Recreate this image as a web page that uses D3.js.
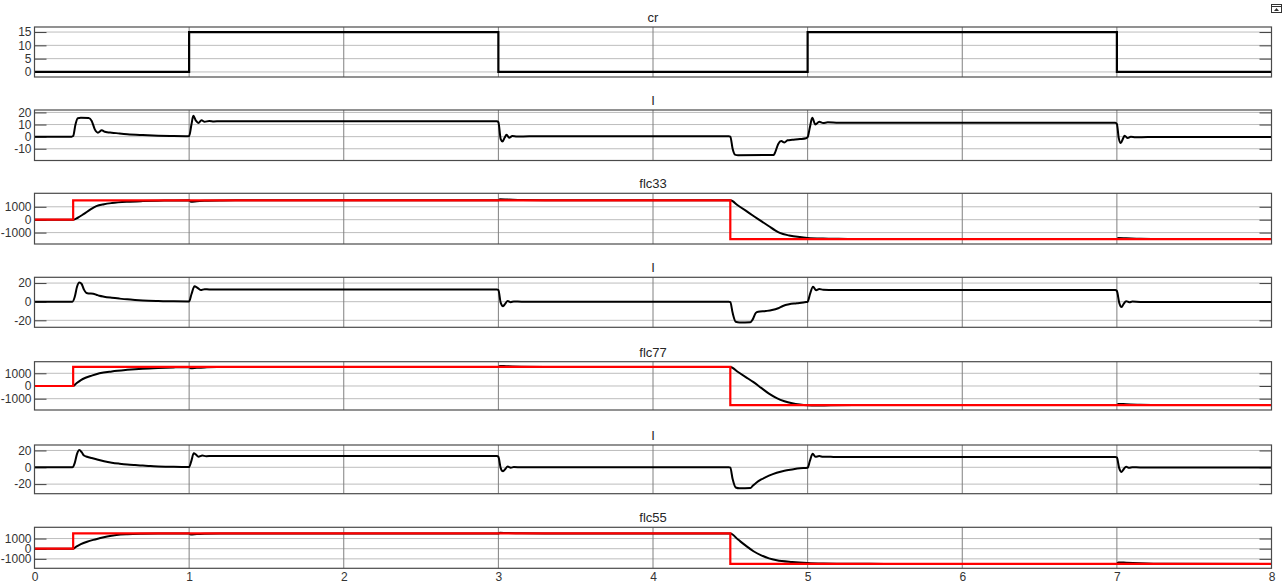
<!DOCTYPE html>
<html>
<head>
<meta charset="utf-8">
<script src="https://cdn.jsdelivr.net/npm/d3@7"></script>
<style>
  html, body { margin: 0; padding: 0; background: #fff; }
  svg { display: block; font-family: "Liberation Sans", Arial, sans-serif; }
</style>
</head>
<body>
<svg id="scope" width="1282" height="584"></svg>
<script>
// ---- signal data: [time (s), value] ----
const cr = [[0,0],[1,0],[1,15],[3,15],[3,0],[5,0],[5,15],[7,15],[7,0],[8,0]];

const current1 = [[0,0],[0.24,0],[0.25,0.5],[0.265,10],[0.28,15.2],[0.3,15.5],[0.35,15.4],[0.37,13],[0.39,6],[0.41,3.3],
  [0.435,5.2],[0.455,4],[0.47,3.6],[0.5,3.3],[0.55,2.6],[0.6,2.0],[0.7,1.3],[0.8,0.8],[0.9,0.5],[0.99,0.4],
  [1.0,0.5],[1.015,10],[1.027,17.2],[1.045,13],[1.06,11.3],[1.08,13.5],[1.1,12.3],[1.13,12.9],[1.16,12.6],[1.2,12.8],
  [2,12.8],[2.99,12.8],[3.0,12],[3.015,-2],[3.027,-4.0],[3.04,-1],[3.053,1.5],[3.07,-0.9],[3.09,0.5],[3.12,0.1],
  [3.2,0.3],[4,0.3],[4.49,0.3],[4.5,0],[4.515,-10],[4.53,-14.8],[4.55,-15.3],[4.78,-15.2],[4.79,-13],[4.81,-6],
  [4.83,-3.7],[4.85,-4.8],[4.87,-3],[4.9,-2.6],[4.95,-2],[4.99,-1.3],[5.0,-0.5],[5.015,8],[5.03,15.5],[5.05,10],
  [5.075,12.4],[5.1,11.3],[5.13,11.8],[5.2,11.5],[6,11.5],[6.99,11.5],[7.0,10.5],[7.012,-1],[7.025,-5.3],[7.04,-1.5],
  [7.05,0.8],[7.07,-1.2],[7.09,-0.1],[7.12,-0.5],[7.2,-0.3],[8,-0.3]];

const current2 = [[0,0],[0.245,0],[0.26,5],[0.275,16],[0.29,20.5],[0.305,19],[0.32,13],[0.335,9.5],[0.35,8.8],[0.38,8.6],
  [0.4,7.5],[0.42,6.3],[0.45,5.3],[0.5,4.2],[0.55,3.3],[0.6,2.5],[0.65,1.9],[0.7,1.4],[0.8,0.8],[0.9,0.4],[1.0,0.3],
  [1.015,8],[1.035,16.5],[1.05,15.5],[1.075,12.5],[1.1,13.5],[1.13,13.2],[1.2,13.2],[2.99,13.2],[3.0,12.5],[3.015,-1],
  [3.03,-4.8],[3.045,-2],[3.06,0.8],[3.08,-0.5],[3.1,0.3],[3.15,0],[4.49,0],[4.5,-0.5],[4.515,-12],[4.535,-21.5],
  [4.56,-22.3],[4.63,-22],[4.645,-19],[4.665,-12],[4.68,-10.8],[4.73,-10],[4.77,-9],[4.81,-7],[4.84,-4.6],[4.88,-2.8],
  [4.93,-1.7],[4.99,-0.3],[5.0,0],[5.015,8],[5.035,16],[5.055,12.3],[5.075,13.6],[5.1,12.8],[5.15,12.6],[5.2,12.5],
  [6.99,12.5],[7.0,11.5],[7.015,-1],[7.03,-5.8],[7.045,-2],[7.06,0.6],[7.08,-0.6],[7.1,0.1],[7.15,-0.2],[8,-0.2]];

const current3 = [[0,0],[0.245,0],[0.26,5],[0.275,16],[0.29,20.6],[0.305,18],[0.32,14],[0.34,12.6],[0.37,11],[0.4,9.5],
  [0.45,7.2],[0.5,5.5],[0.55,4.3],[0.6,3.3],[0.65,2.6],[0.7,2],[0.75,1.4],[0.8,1],[0.9,0.5],[1.0,0.3],[1.015,8],
  [1.03,16.7],[1.045,15],[1.06,12.6],[1.085,14],[1.11,13.2],[1.15,13.5],[1.2,13.4],[2.99,13.4],[3.0,12.5],[3.015,-1],
  [3.03,-4.8],[3.045,-2],[3.06,0.8],[3.08,-0.5],[3.1,0.3],[3.15,0],[4.49,0],[4.5,-0.5],[4.515,-14],[4.535,-24],
  [4.56,-25],[4.63,-24.7],[4.645,-22],[4.67,-18],[4.7,-14.5],[4.75,-10],[4.8,-6.5],[4.85,-4],[4.9,-2.5],[4.95,-1.2],
  [5.0,-0.5],[5.015,8],[5.033,16],[5.05,12.5],[5.075,13.3],[5.1,12.5],[5.15,12.4],[5.2,12.3],[6.99,12.3],[7.0,11.5],
  [7.015,-1],[7.03,-5.5],[7.045,-2],[7.06,0.6],[7.08,-0.6],[7.1,0.1],[7.15,-0.2],[8,-0.2]];

const flcRef = [[0,0],[0.25,0],[0.25,1500],[4.5,1500],[4.5,-1500],[8,-1500]];

const flc33 = [[0,0],[0.25,0],[0.28,150],[0.32,450],[0.36,780],[0.4,1050],[0.45,1200],[0.5,1290],[0.6,1390],[0.7,1440],
  [0.8,1470],[0.9,1490],[1.0,1500],[1.01,1400],[1.05,1430],[1.1,1470],[1.2,1495],[1.3,1500],[3.0,1500],[3.01,1580],
  [3.06,1560],[3.15,1520],[3.3,1505],[4.5,1500],[4.55,1100],[4.6,700],[4.65,290],[4.7,-110],[4.75,-510],[4.79,-830],
  [4.82,-1020],[4.88,-1220],[4.95,-1350],[5.0,-1410],[5.1,-1465],[5.2,-1485],[5.4,-1498],[7.0,-1500],[7.01,-1420],
  [7.06,-1440],[7.15,-1480],[7.3,-1498],[8,-1500]];

const flc77 = [[0,0],[0.25,0],[0.27,200],[0.3,470],[0.33,650],[0.37,820],[0.42,1000],[0.5,1150],[0.6,1270],[0.7,1360],
  [0.8,1420],[0.9,1465],[1.0,1490],[1.01,1390],[1.05,1430],[1.1,1465],[1.2,1490],[1.3,1500],[3.0,1500],[3.01,1580],
  [3.05,1560],[3.15,1520],[3.3,1505],[4.5,1500],[4.55,1100],[4.6,700],[4.65,300],[4.7,-150],[4.75,-600],[4.8,-950],
  [4.85,-1200],[4.9,-1360],[4.95,-1460],[5.0,-1520],[5.05,-1545],[5.15,-1515],[5.3,-1502],[7.0,-1500],[7.01,-1410],
  [7.06,-1440],[7.15,-1480],[7.3,-1498],[8,-1500]];

const flc55 = [[0,0],[0.25,0],[0.27,200],[0.3,450],[0.34,690],[0.38,870],[0.42,1020],[0.47,1200],[0.53,1340],[0.6,1420],
  [0.7,1470],[0.8,1490],[1.0,1500],[1.01,1400],[1.05,1440],[1.1,1470],[1.2,1495],[1.3,1500],[3.0,1500],[3.01,1570],
  [3.05,1550],[3.15,1515],[3.3,1503],[4.5,1500],[4.55,900],[4.6,300],[4.65,-250],[4.7,-650],[4.75,-950],[4.8,-1130],
  [4.9,-1300],[5.0,-1400],[5.1,-1450],[5.2,-1475],[5.4,-1495],[5.6,-1500],[7.0,-1500],[7.01,-1350],[7.06,-1380],
  [7.15,-1440],[7.3,-1495],[8,-1500]];

// ---- axis tick values ----
const timeTicks = [0, 1, 2, 3, 4, 5, 6, 7, 8];
const crTicks = [0, 5, 10, 15];
const current1Ticks = [-10, 0, 10, 20];
const current23Ticks = [-20, 0, 20];
const flcTicks = [-1000, 0, 1000];
const titles = ["cr", "I", "flc33", "I", "flc77", "I", "flc55"];

// ---- panel layout (pixel top/bottom of each plot area and its y-range) ----
const panels = [
  { title: titles[0], top: 27,    bottom: 77,    domain: [-1.9, 16.9],   ticks: crTicks,       black: cr },
  { title: titles[1], top: 110,   bottom: 160.5, domain: [-19.7, 22],    ticks: current1Ticks, black: current1 },
  { title: titles[2], top: 193.3, bottom: 244,   domain: [-1884, 2046],  ticks: flcTicks,      black: flc33, red: flcRef },
  { title: titles[3], top: 277.3, bottom: 327.3, domain: [-27.5, 26.2],  ticks: current23Ticks, black: current2 },
  { title: titles[4], top: 361.7, bottom: 410,   domain: [-1890, 1913],  ticks: flcTicks,      black: flc77, red: flcRef },
  { title: titles[5], top: 445,   bottom: 493.7, domain: [-31.4, 26.5],  ticks: current23Ticks, black: current3 },
  { title: titles[6], top: 527.3, bottom: 568.3, domain: [-1931, 2108],  ticks: flcTicks,      black: flc55, red: flcRef }
];

const left = 34.5, right = 1271.5;
const svg = d3.select("#scope");
const x = d3.scaleLinear().domain([0, 8]).range([left, right]);

const fmt = v => String(v);

panels.forEach((p, i) => {
  const y = d3.scaleLinear().domain(p.domain).range([p.bottom, p.top]);
  const g = svg.append("g");
  const clipId = "clip" + i;
  svg.append("clipPath").attr("id", clipId)
    .append("rect").attr("x", left).attr("y", p.top).attr("width", right - left).attr("height", p.bottom - p.top);

  // horizontal grid
  g.selectAll("line.hg").data(p.ticks).join("line")
    .attr("x1", left).attr("x2", right)
    .attr("y1", d => y(d)).attr("y2", d => y(d))
    .attr("stroke", "#bdbdbd").attr("stroke-width", 1);
  // vertical grid
  g.selectAll("line.vg").data(timeTicks.slice(1, -1)).join("line")
    .attr("x1", d => x(d)).attr("x2", d => x(d))
    .attr("y1", p.top).attr("y2", p.bottom)
    .attr("stroke", "#808080").attr("stroke-width", 1);

  // y axis: ticks inward on both sides
  const yl = d3.axisLeft(y).tickValues(p.ticks).tickSize(-12).tickFormat(fmt);
  const ya = g.append("g").attr("transform", `translate(${left},0)`).call(yl);
  const yr = g.append("g").attr("transform", `translate(${right},0)`)
    .call(d3.axisRight(y).tickValues(p.ticks).tickSize(-12).tickFormat(""));
  [ya, yr].forEach(a => {
    a.select(".domain").remove();
    a.selectAll(".tick line").attr("stroke", "#404040").attr("stroke-width", 1);
  });
  ya.selectAll(".tick text").attr("x", -3).attr("fill", "#333").attr("font-size", 12)
    .attr("font-family", "'Liberation Sans', Arial, sans-serif");

  const line = d3.line().x(d => x(d[0])).y(d => y(d[1]));
  const plot = g.append("g").attr("clip-path", `url(#${clipId})`);

  if (p.red) {
    plot.append("path").datum(p.black)
      .attr("d", line.curve(d3.curveMonotoneX))
      .attr("fill", "none").attr("stroke", "#000").attr("stroke-width", 2);
    plot.append("path").datum(p.red)
      .attr("d", line.curve(d3.curveLinear))
      .attr("fill", "none").attr("stroke", "#ff0000").attr("stroke-width", 2.2);
  } else if (p.black === cr) {
    plot.append("path").datum(p.black)
      .attr("d", line.curve(d3.curveLinear))
      .attr("fill", "none").attr("stroke", "#000").attr("stroke-width", 2.2);
  } else {
    plot.append("path").datum(p.black)
      .attr("d", line.curve(d3.curveMonotoneX))
      .attr("fill", "none").attr("stroke", "#000").attr("stroke-width", 2);
  }

  // frame
  g.append("rect").attr("x", left).attr("y", p.top)
    .attr("width", right - left).attr("height", p.bottom - p.top)
    .attr("fill", "none").attr("stroke", "#4a4a4a").attr("stroke-width", 1.2);

  // title
  svg.append("text").attr("x", (left + right) / 2).attr("y", p.top - 5)
    .attr("text-anchor", "middle").attr("font-size", 13).attr("fill", "#262626")
    .text(p.title);

  // time axis labels on the last panel
  if (i === panels.length - 1) {
    const xa = svg.append("g").attr("transform", `translate(0,${p.bottom})`)
      .call(d3.axisBottom(x).tickValues(timeTicks).tickSize(0).tickPadding(4).tickFormat(d3.format("d")));
    xa.select(".domain").remove();
    xa.selectAll(".tick text").attr("fill", "#333").attr("font-size", 12)
      .attr("font-family", "'Liberation Sans', Arial, sans-serif");
  }
});

// small undock/expand icon in the corner
const icon = svg.append("g").attr("transform", "translate(1271,4)");
icon.append("rect").attr("x", 0.5).attr("y", 0.5).attr("width", 10).attr("height", 8)
  .attr("fill", "#fff").attr("stroke", "#333").attr("stroke-width", 1);
icon.append("line").attr("x1", 0.5).attr("x2", 10.5).attr("y1", 2.5).attr("y2", 2.5).attr("stroke", "#333");
icon.append("path").attr("d", "M3,7 L5.5,4 L8,7 Z").attr("fill", "#333");
</script>
</body>
</html>
